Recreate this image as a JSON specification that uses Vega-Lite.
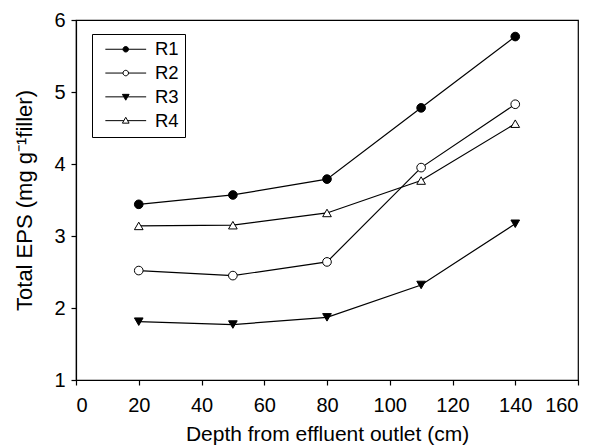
{
  "$schema": "https://vega.github.io/schema/vega-lite/v6.json",
  "autosize": "none",
  "width": 502,
  "height": 360,
  "padding": {"left": 76, "top": 20, "right": 19, "bottom": 68},
  "background": "white",
  "config": {
    "font": "Liberation Sans",
    "view": {"stroke": "black", "strokeWidth": 1.2},
    "axis": {
      "labelFont": "Liberation Sans", "labelFontSize": 20, "labelColor": "black",
      "titleFont": "Liberation Sans", "titleFontSize": 21, "titleFontWeight": "normal", "titleColor": "black",
      "domainColor": "black", "tickColor": "black", "tickSize": 5, "grid": false, "domainWidth": 1.2, "tickWidth": 1.2
    },
    "legend": {"labelFont": "Liberation Sans", "labelFontSize": 18.5, "labelColor": "black"}
  },
  "data": {"values": [
    {"depth": 20, "eps": 3.44, "series": "R1"},
    {"depth": 50, "eps": 3.57, "series": "R1"},
    {"depth": 80, "eps": 3.79, "series": "R1"},
    {"depth": 110, "eps": 4.78, "series": "R1"},
    {"depth": 140, "eps": 5.77, "series": "R1"},
    {"depth": 20, "eps": 2.52, "series": "R2"},
    {"depth": 50, "eps": 2.45, "series": "R2"},
    {"depth": 80, "eps": 2.64, "series": "R2"},
    {"depth": 110, "eps": 3.95, "series": "R2"},
    {"depth": 140, "eps": 4.83, "series": "R2"},
    {"depth": 20, "eps": 1.81, "series": "R3"},
    {"depth": 50, "eps": 1.77, "series": "R3"},
    {"depth": 80, "eps": 1.87, "series": "R3"},
    {"depth": 110, "eps": 2.32, "series": "R3"},
    {"depth": 140, "eps": 3.17, "series": "R3"},
    {"depth": 20, "eps": 3.14, "series": "R4"},
    {"depth": 50, "eps": 3.15, "series": "R4"},
    {"depth": 80, "eps": 3.32, "series": "R4"},
    {"depth": 110, "eps": 3.77, "series": "R4"},
    {"depth": 140, "eps": 4.56, "series": "R4"}
  ]},
  "encoding": {
    "x": {"field": "depth", "type": "quantitative", "scale": {"domain": [0, 160], "nice": false},
      "axis": {"values": [0, 20, 40, 60, 80, 100, 120, 140, 160], "title": "Depth from effluent outlet (cm)", "labelPadding": 10, "titlePadding": 8}},
    "y": {"field": "eps", "type": "quantitative", "scale": {"domain": [1, 6], "nice": false, "zero": false},
      "axis": {"values": [1, 2, 3, 4, 5, 6], "title": "Total EPS (mg g⁻¹filler)", "labelPadding": 6, "titlePadding": 17, "titleFontSize": 22}}
  },
  "layer": [
    {
      "mark": {"type": "line", "color": "black", "strokeWidth": 1.2},
      "encoding": {"detail": {"field": "series"}}
    },
    {
      "mark": {"type": "point", "filled": true, "stroke": "black", "strokeWidth": 1, "size": 75, "opacity": 1},
      "encoding": {
        "shape": {"field": "series", "type": "nominal",
          "scale": {"domain": ["R1", "R2", "R3", "R4"], "range": ["circle", "circle", "triangle-down", "triangle-up"]}, "legend": null},
        "fill": {"field": "series", "type": "nominal",
          "scale": {"domain": ["R1", "R2", "R3", "R4"], "range": ["black", "white", "black", "white"]}, "legend": null}
      }
    },
    {
      "transform": [{"filter": "datum.depth < 0"}],
      "mark": {"type": "point", "filled": true, "stroke": "black", "strokeWidth": 1, "size": 144, "opacity": 1},
      "encoding": {
        "shape": {"field": "series", "type": "nominal",
          "scale": {"domain": ["R1", "R2", "R3", "R4"], "range": [
            "M-4.08,0H-0.5M0.5,0H4.08M-0.55,0A0.55,0.55,0,1,0,0.55,0A0.55,0.55,0,1,0,-0.55,0Z",
            "M-4.08,0H-0.55M0.55,0H4.08M-0.55,0A0.55,0.55,0,1,0,0.55,0A0.55,0.55,0,1,0,-0.55,0Z",
            "M-4.08,0H-0.38M0.38,0H4.08M-0.67,-0.5L0.67,-0.5L0,0.67Z",
            "M-4.08,0H-0.38M0.38,0H4.08M-0.67,0.5L0.67,0.5L0,-0.67Z"
          ]},
          "legend": {"title": null, "orient": "none", "legendX": 16, "legendY": 14, "strokeColor": "black", "padding": 6,
            "symbolOffset": 18.5, "labelOffset": 20, "rowPadding": 4.8, "symbolStrokeWidth": 1}},
        "fill": {"field": "series", "type": "nominal",
          "scale": {"domain": ["R1", "R2", "R3", "R4"], "range": ["black", "white", "black", "white"]},
          "legend": {"title": null, "orient": "none", "legendX": 16, "legendY": 14, "strokeColor": "black", "padding": 6,
            "symbolOffset": 18.5, "labelOffset": 20, "rowPadding": 4.8, "symbolStrokeWidth": 1}}
      }
    }
  ],
  "resolve": {"scale": {"shape": "independent", "fill": "independent"}, "legend": {"shape": "independent", "fill": "independent"}}
}
